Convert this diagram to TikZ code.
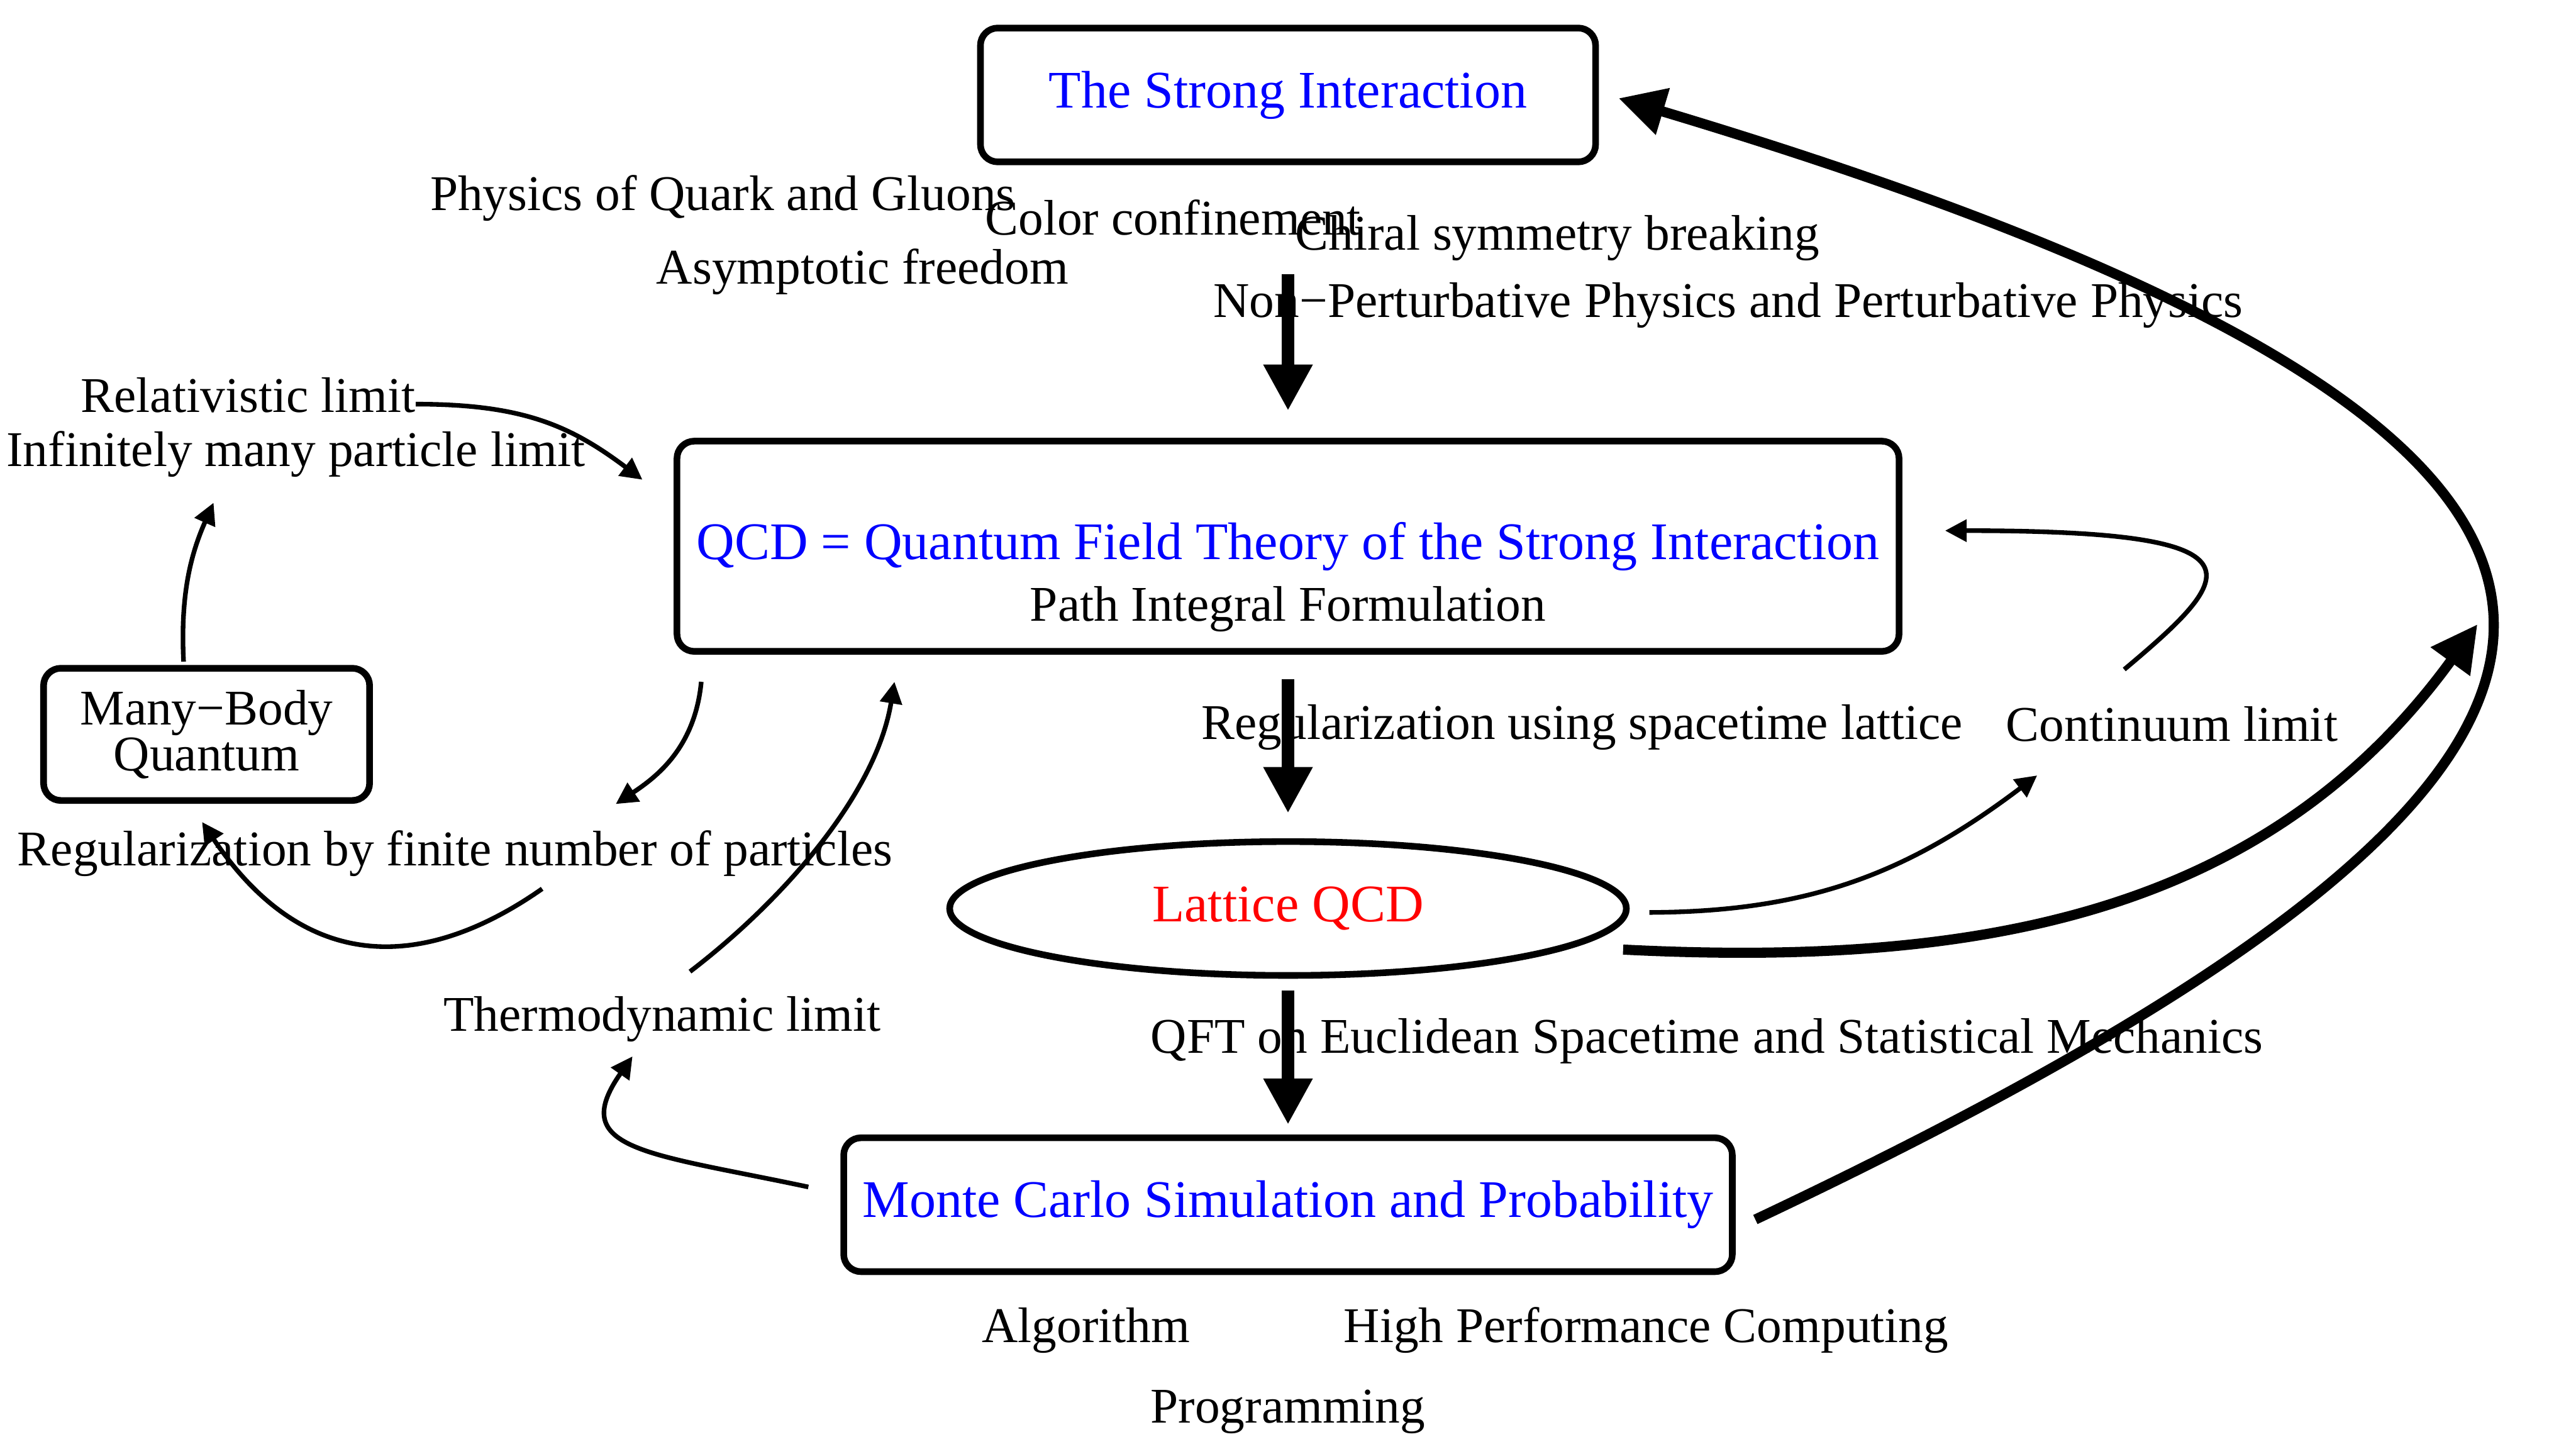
\documentclass[tikz,border=0pt]{standalone}
\usepackage{fontspec}
\setmainfont{Liberation Serif}
\usepackage{xcolor}
\usepackage{tikz}
\usetikzlibrary{shapes.geometric, arrows.meta, positioning, calc}

\tikzset{%
box/.style={draw,rectangle,rounded corners=6pt,line width=2.3pt,black,align=center,inner sep=0pt},%
title/.style={font=\fontsize{18.3pt}{20pt}\selectfont},%
lbl/.style={black,anchor=base,inner sep=0pt},%
bigarrow/.style={line width=4.2pt,-{Triangle[length=16pt,width=16pt]}},%
fatarrow/.style={line width=3.5pt,-{Triangle[length=16pt,width=16pt]}},%
thinarrow/.style={line width=1.6pt,-{Triangle[length=7.5pt,width=7.5pt]}}%
}

\begin{document}
\begin{tikzpicture}[x=0.02cm,y=-0.02cm,font=\fontsize{17.3pt}{16pt}\selectfont]%
\useasboundingbox (0,0) rectangle (1568,882);%
% boxes
\node[box,title,minimum width=7.49cm,minimum height=1.63cm,text=blue] (strong) at (784,57.8) {The Strong Interaction};%
\node[box,title,minimum width=14.88cm,minimum height=2.56cm,text=blue] (qcd) at (784,332.5) {QCD = Quantum Field Theory of the Strong Interaction};%
\node[lbl] (qcd_sub) at (784,378) {Path Integral Formulation};%
\node[box,minimum width=3.97cm,minimum height=1.61cm] (mb) at (125.75,447) {Many−Body\\Quantum};%
\node[draw,ellipse,title,line width=2.3pt,minimum width=8.24cm,minimum height=1.63cm,inner sep=0pt,text=red] (lat) at (784,553) {Lattice QCD};%
\node[box,title,minimum width=10.82cm,minimum height=1.63cm,text=blue] (mc) at (784,733.3) {Monte Carlo Simulation and Probability};%
% labels
\node[lbl] (l_phys) at (440,128) {Physics of Quark and Gluons};%
\node[lbl] (l_color) at (714,143) {Color confinement};%
\node[lbl] (l_chiral) at (948,152) {Chiral symmetry breaking};%
\node[lbl] (l_asym) at (525,173) {Asymptotic freedom};%
\node[lbl] (l_pert) at (1052,193) {Non−Perturbative Physics and Perturbative Physics};%
\node[lbl] (l_rel) at (151,251) {Relativistic limit};%
\node[lbl] (l_inf) at (180,284) {Infinitely many particle limit};%
\node[lbl] (l_reglat) at (963,450) {Regularization using spacetime lattice};%
\node[lbl] (l_cont) at (1322,451) {Continuum limit};%
\node[lbl] (l_regpart) at (277,527) {Regularization by finite number of particles};%
\node[lbl] (l_thermo) at (403,627.5) {Thermodynamic limit};%
\node[lbl] (l_qft) at (1039,641) {QFT on Euclidean Spacetime and Statistical Mechanics};%
\node[lbl] (l_algo) at (661,817) {Algorithm};%
\node[lbl] (l_hpc) at (1002,817) {High Performance Computing};%
\node[lbl] (l_prog) at (784,866) {Programming};%
% main chain
\draw[bigarrow,shorten <=1.33cm,shorten >=0.33cm] (strong.south) -- (qcd.north);%
\draw[bigarrow,shorten <=0.3cm,shorten >=0.305cm] (qcd.south) -- (lat.north);%
\draw[bigarrow,shorten <=0.14cm,shorten >=0.12cm] (lat.south) -- (mc.north);%
% outer loop
\coordinate (meet) at (1508,380);%
\draw[fatarrow] ($(mc.east)+(12,9)$) .. controls ($(mc.east)+(583,-261)$) and ($(strong.east)+(742,221)$) .. ($(strong.east)+(12,2)$);%
\draw[fatarrow] ($(lat.east)+(-4,25)$) .. controls ($(lat.east)+(214,36)$) and ($(meet)+(-128,176)$) .. (meet);%
% limits
\draw[thinarrow] ($(l_rel.base east)+(0,-5)$) .. controls ($(l_rel.base east)+(65,-5)$) and ($(qcd.north west)+(-63,-7.5)$) .. ($(qcd.north west)+(-19,25.5)$);%
\draw[thinarrow] ($(mb.north)+(-14,-2)$) .. controls ($(mb.north)+(-16,-42)$) and ($(l_inf.base)+(-64.2,54)$) .. ($(l_inf.base)+(-50,22)$);%
\draw[thinarrow] ($(qcd.south west)+(16.8,16.5)$) .. controls ($(qcd.south west)+(13,56.5)$) and ($(l_regpart.base)+(122.8,-54.2)$) .. ($(l_regpart.base)+(97.8,-37.6)$);%
\draw[thinarrow] ($(l_regpart.base)+(53,14)$) .. controls ($(l_regpart.base)+(7.6,45.8)$) and ($(mb.south)+(73.25,123.8)$) .. ($(mb.south)+(-2.75,11.1)$);%
\draw[thinarrow] ($(mc.west)+(-19.5,-10.8)$) .. controls ($(mc.west)+(-117.3,-31.6)$) and ($(l_thermo.base)+(-58.2,72.8)$) .. ($(l_thermo.base)+(-18,15.5)$);%
\draw[thinarrow] ($(l_thermo.base)+(17,-36.1)$) .. controls ($(l_thermo.base)+(72.6,-78.6)$) and ($(qcd.south west)+(123.1,85.6)$) .. ($(qcd.south west)+(134.4,16.5)$);%
\draw[thinarrow] ($(lat.east)+(12,2.4)$) .. controls ($(lat.east)+(110,2)$) and ($(l_cont.base)+(-160,80)$) .. ($(l_cont.base)+(-82,21)$);%
\draw[thinarrow] ($(l_cont.base)+(-29,-43.5)$) .. controls ($(l_cont.base)+(40,-101.4)$) and ($(qcd.east)+(226,-9.5)$) .. ($(qcd.east)+(26,-9.5)$);%
\end{tikzpicture}
\end{document}
